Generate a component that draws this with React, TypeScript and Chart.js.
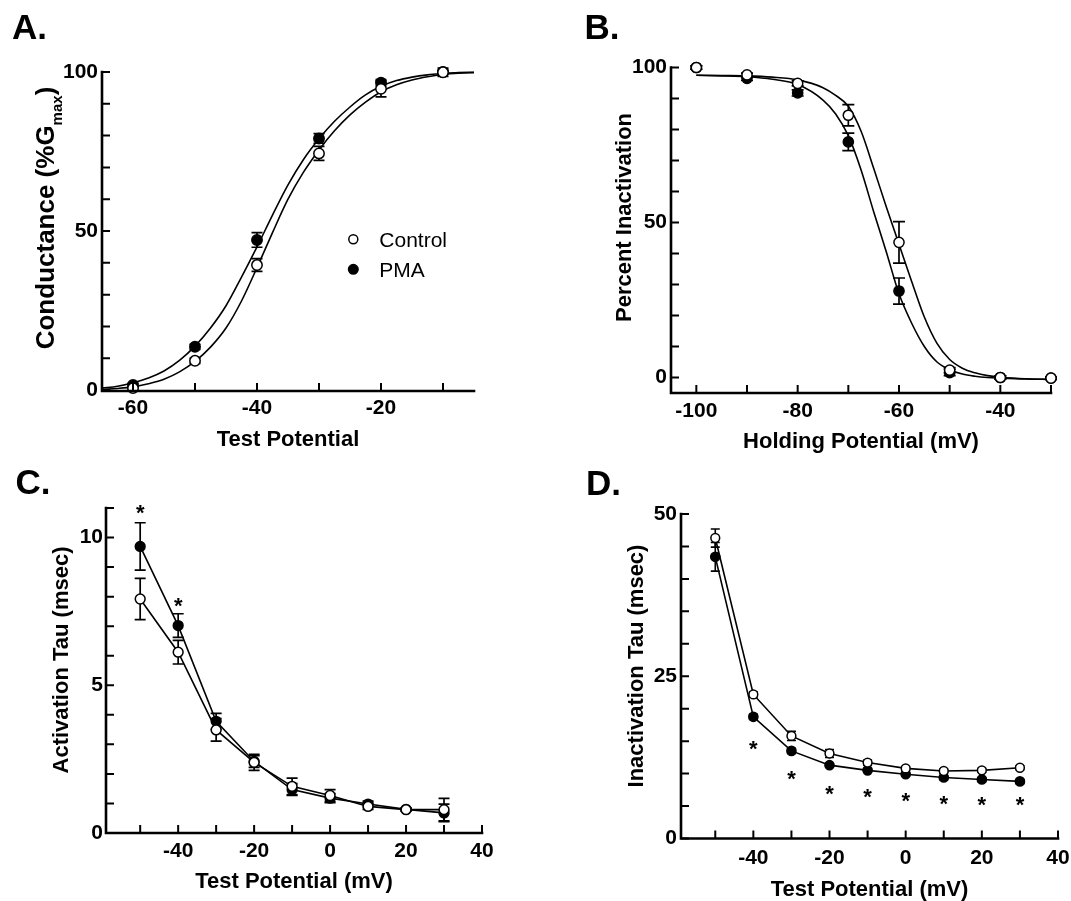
import React, { useEffect, useRef } from 'react';
import { Chart, registerables } from 'chart.js';

Chart.register(...registerables);

const PAGE_W = 1071;
const PAGE_H = 901;
const FAMILY = '"Liberation Sans", Arimo, Arial, Helvetica, sans-serif';
Chart.defaults.font.family = FAMILY;

// ---------------- Panel A: conductance-voltage ----------------
const aVolts = [-60, -50, -40, -30, -20, -10];
const aControl = [0.6, 9.2, 39.3, 74.4, 94.7, 99.9];
const aControlErr = [0.4, 0.8, 2.0, 2.2, 2.5, 1.3];
const aPma = [1.6, 13.6, 47.2, 79.1, 96.6, 100];
const aPmaErr = [0.5, 0.8, 2.3, 1.5, 1.0, 0.6];
const aFitVolts = [-65, -62.5, -60, -57.5, -55, -52.5, -50, -47.5, -45, -42.5, -40, -37.5, -35, -32.5, -30, -27.5, -25, -22.5, -20, -17.5, -15, -12.5, -10, -7.5, -5];
const aFitControl = [0.2, 0.5, 1.0, 2.0, 3.4, 5.7, 9.0, 13.5, 19.5, 28, 38.5, 49.5, 60, 68.5, 75.5, 81.5, 86.5, 90.5, 93.8, 96, 97.5, 98.5, 99.2, 99.6, 99.8];
const aFitPma = [0.6, 1.2, 2.3, 3.8, 6, 9.3, 13.8, 19.5, 26.5, 35.5, 45, 55, 64.5, 72.5, 79, 84.5, 89, 92.8, 95.5, 97.3, 98.4, 99.1, 99.5, 99.8, 99.9];
const aXTicks = [-60, -50, -40, -30, -20, -10];
const aXLabels = [-60, -40, -20];
const aYTicks = [0, 10, 20, 30, 40, 50, 60, 70, 80, 90, 100];
const aYLabels = [0, 50, 100];

// ---------------- Panel B: steady-state inactivation ----------------
const bVolts = [-100, -90, -80, -70, -60, -50, -40, -30];
const bControl = [100, 97.6, 94.9, 84.6, 43.6, 2.4, 0, -0.2];
const bControlErr = [0.5, 0.6, 0.8, 3.4, 6.7, 0.8, 0.5, 0.4];
const bPma = [100, 96.5, 91.8, 76.0, 27.9, 1.6, 0, -0.2];
const bPmaErr = [0.5, 0.7, 1.0, 2.8, 4.2, 1.0, 0.5, 0.4];
const bFitVolts = [-100, -95, -90, -85, -80, -75, -72.5, -70, -67.5, -65, -62.5, -60, -57.5, -55, -52.5, -50, -47.5, -45, -42.5, -40, -35, -30];
const bFitControl = [97.5, 97.4, 97.3, 96.9, 96.0, 93.5, 91, 87.5, 79.5, 67.5, 55, 43, 31, 19.5, 11, 5.8, 3.0, 1.5, 0.6, 0.1, -0.4, -0.6];
const bFitPma = [97.5, 97.3, 97.0, 96.2, 94.5, 89.5, 85, 78, 67, 53.5, 40.5, 27, 17.5, 10, 5, 2.5, 1.1, 0.4, 0, -0.2, -0.5, -0.6];
const bXTicks = [-100, -90, -80, -70, -60, -50, -40, -30];
const bXLabels = [-100, -80, -60, -40];
const bYTicks = [0, 10, 20, 30, 40, 50, 60, 70, 80, 90, 100];
const bYLabels = [0, 50, 100];

// ---------------- Panel C: activation tau ----------------
const cVolts = [-50, -40, -30, -20, -10, 0, 10, 20, 30];
const cControl = [7.92, 6.12, 3.49, 2.39, 1.58, 1.27, 0.9, 0.79, 0.79];
const cControlErr = [0.7, 0.4, 0.38, 0.27, 0.28, 0.2, 0.1, 0.05, 0.38];
const cPma = [9.7, 7.02, 3.78, 2.42, 1.47, 1.18, 0.98, 0.8, 0.68];
const cPmaErr = [0.8, 0.4, 0.27, 0.2, 0.2, 0.15, 0.1, 0.05, 0.3];
const cStarVolts = [-50, -40];
const cStarLevels = [11.0, 7.85];
const cXTicks = [-50, -40, -30, -20, -10, 0, 10, 20, 30, 40];
const cXLabels = [-40, -20, 0, 20, 40];
const cYTicks = [0, 1, 2, 3, 4, 5, 6, 7, 8, 9, 10, 11];
const cYLabels = [0, 5, 10];

// ---------------- Panel D: inactivation tau ----------------
const dVolts = [-50, -40, -30, -20, -10, 0, 10, 20, 30];
const dControl = [46.3, 22.2, 15.8, 13.1, 11.7, 10.8, 10.4, 10.5, 10.9];
const dControlErr = [1.4, 0.4, 0.7, 0.6, 0.4, 0.3, 0.3, 0.3, 0.3];
const dPma = [43.4, 18.75, 13.5, 11.3, 10.5, 9.9, 9.4, 9.1, 8.8];
const dPmaErr = [2.2, 0.4, 0.4, 0.3, 0.3, 0.3, 0.3, 0.3, 0.3];
const dStarVolts = [-40, -30, -20, -10, 0, 10, 20, 30];
const dStarLevels = [14.5, 9.9, 7.7, 7.2, 6.5, 6.05, 5.9, 6.0];
const dXTicks = [-50, -40, -30, -20, -10, 0, 10, 20, 30, 40];
const dXLabels = [-40, -20, 0, 20, 40];
const dYTicks = [0, 5, 10, 15, 20, 25, 30, 35, 40, 45, 50];
const dYLabels = [0, 25, 50];

// ---------------- helpers ----------------
const pts = (xs: number[], ys: number[]) => xs.map((x, i) => ({ x, y: ys[i] }));

function markerSet(label: string, xs: number[], ys: number[], filled: boolean, r: number, showLine: boolean) {
  return {
    label,
    data: pts(xs, ys),
    showLine,
    borderColor: '#000',
    borderWidth: 1.6,
    backgroundColor: filled ? '#000' : '#fff',
    pointStyle: 'circle',
    pointRadius: r,
    pointHoverRadius: r,
    pointBorderWidth: 1.5,
    pointBackgroundColor: filled ? '#000' : '#fff',
    pointBorderColor: '#000',
    tension: 0,
    fill: false,
    clip: false,
    order: filled ? 1 : 0,
  };
}

function curveSet(label: string, xs: number[], ys: number[]) {
  return {
    label,
    data: pts(xs, ys),
    showLine: true,
    borderColor: '#000',
    borderWidth: 1.6,
    pointRadius: 0,
    pointHoverRadius: 0,
    cubicInterpolationMode: 'monotone',
    fill: false,
    clip: false,
    order: 2,
  };
}

const sciPlugin = {
  id: 'sci',
  beforeDatasetsDraw(chart: any, _a: any, opts: any) {
    const ctx = chart.ctx;
    const xs = chart.scales.x;
    const ys = chart.scales.y;
    ctx.save();
    ctx.strokeStyle = '#000';
    ctx.lineWidth = opts.errWidth;
    ctx.lineCap = 'butt';
    (opts.errors || []).forEach((s: any) => {
      s.x.forEach((xv: number, i: number) => {
        const e = s.err[i];
        if (!e) return;
        const px = xs.getPixelForValue(xv);
        const pt = ys.getPixelForValue(s.y[i] + e);
        const pb = ys.getPixelForValue(s.y[i] - e);
        const c = opts.capHalf;
        ctx.beginPath();
        ctx.moveTo(px, pt);
        ctx.lineTo(px, pb);
        ctx.moveTo(px - c, pt);
        ctx.lineTo(px + c, pt);
        ctx.moveTo(px - c, pb);
        ctx.lineTo(px + c, pb);
        ctx.stroke();
      });
    });
    ctx.restore();
  },
  afterDraw(chart: any, _a: any, opts: any) {
    const ctx = chart.ctx;
    const { left, right, top, bottom } = chart.chartArea;
    const xs = chart.scales.x;
    const ys = chart.scales.y;
    ctx.save();
    ctx.strokeStyle = '#000';
    ctx.fillStyle = '#000';
    // axes
    ctx.lineWidth = 2.6;
    ctx.lineCap = 'square';
    ctx.lineJoin = 'miter';
    ctx.beginPath();
    ctx.moveTo(left, top);
    ctx.lineTo(left, bottom);
    ctx.lineTo(right, bottom);
    ctx.stroke();
    // inward ticks
    ctx.lineWidth = 2;
    ctx.lineCap = 'butt';
    ctx.beginPath();
    opts.xTicks.forEach((v: number) => {
      const px = xs.getPixelForValue(v);
      ctx.moveTo(px, bottom);
      ctx.lineTo(px, bottom - 8);
    });
    opts.yTicks.forEach((v: number) => {
      const py = ys.getPixelForValue(v);
      ctx.moveTo(left, py);
      ctx.lineTo(left + 8, py);
    });
    ctx.stroke();
    // significance stars
    if (opts.stars) {
      ctx.font = `bold 22px ${FAMILY}`;
      ctx.textAlign = 'center';
      ctx.textBaseline = 'alphabetic';
      opts.stars.x.forEach((v: number, i: number) => {
        const px = xs.getPixelForValue(v);
        const py = ys.getPixelForValue(opts.stars.y[i]);
        ctx.fillText('*', px, py + 12);
      });
    }
    // vertical axis title
    const t = opts.yTitle;
    ctx.save();
    ctx.translate(t.x, t.y);
    ctx.rotate(-Math.PI / 2);
    ctx.textAlign = 'left';
    ctx.textBaseline = 'alphabetic';
    let total = 0;
    const widths = t.parts.map((p: any) => {
      ctx.font = `bold ${p.size}px ${FAMILY}`;
      const w = ctx.measureText(p.text).width;
      total += w;
      return w;
    });
    let cx = -total / 2;
    t.parts.forEach((p: any, i: number) => {
      ctx.font = `bold ${p.size}px ${FAMILY}`;
      ctx.fillText(p.text, cx, p.dy || 0);
      cx += widths[i];
    });
    ctx.restore();
    // panel letter
    ctx.font = `bold 35px ${FAMILY}`;
    ctx.textAlign = 'left';
    ctx.textBaseline = 'alphabetic';
    ctx.fillText(opts.letter.text, opts.letter.x, opts.letter.y);
    // legend
    if (opts.legend) {
      opts.legend.forEach((l: any) => {
        ctx.beginPath();
        ctx.arc(l.x, l.y, l.r, 0, Math.PI * 2);
        ctx.fillStyle = l.fill;
        ctx.fill();
        ctx.lineWidth = 1.5;
        ctx.strokeStyle = '#000';
        ctx.stroke();
        ctx.fillStyle = '#000';
        ctx.font = `21px ${FAMILY}`;
        ctx.fillText(l.label, l.tx, l.y + 7.5);
      });
    }
    ctx.restore();
  },
};

const TICK_FONT = { family: FAMILY, size: 21, weight: 'bold' as const };
const TITLE_FONT = { family: FAMILY, size: 22, weight: 'bold' as const, lineHeight: 1.2 };

function buildConfig(p: any) {
  const yW = 60;
  const lh = TITLE_FONT.size * TITLE_FONT.lineHeight;
  const xH = p.xTitleY + lh / 2 - p.area.B;
  return {
    type: 'line',
    data: { datasets: p.datasets },
    options: {
      responsive: false,
      animation: false,
      devicePixelRatio: 1,
      events: [],
      layout: {
        padding: {
          left: p.area.L - yW,
          right: PAGE_W - p.area.R,
          top: p.area.T,
          bottom: PAGE_H - p.area.B - xH,
        },
      },
      plugins: {
        legend: { display: false },
        tooltip: { enabled: false },
        sci: p.sci,
      },
      scales: {
        x: {
          type: 'linear',
          min: p.xRange[0],
          max: p.xRange[1],
          grid: { display: false, drawTicks: false },
          border: { display: false },
          ticks: {
            font: TICK_FONT,
            color: '#000',
            padding: p.xPad,
            maxRotation: 0,
            autoSkip: false,
            callback: (v: any) => String(v),
          },
          afterBuildTicks: (s: any) => {
            s.ticks = p.xLabels.map((v: number) => ({ value: v }));
          },
          afterFit: (s: any) => {
            s.height = xH;
            s.paddingLeft = 0;
            s.paddingRight = 0;
          },
          title: { display: true, text: p.xTitle, font: TITLE_FONT, color: '#000', padding: 0 },
        },
        y: {
          type: 'linear',
          min: p.yRange[0],
          max: p.yRange[1],
          grid: { display: false, drawTicks: false },
          border: { display: false },
          ticks: {
            font: TICK_FONT,
            color: '#000',
            padding: p.yPad,
            autoSkip: false,
            callback: (v: any) => String(v),
          },
          afterBuildTicks: (s: any) => {
            s.ticks = p.yLabels.map((v: number) => ({ value: v }));
          },
          afterFit: (s: any) => {
            s.width = yW;
            s.paddingTop = 0;
            s.paddingBottom = 0;
          },
        },
      },
    },
    plugins: [sciPlugin],
  };
}

const panelA = {
  area: { L: 102, R: 474, T: 72, B: 391 },
  xRange: [-65, -5],
  yRange: [-0.3, 100],
  xLabels: aXLabels,
  yLabels: aYLabels,
  xTitle: 'Test Potential',
  xTitleY: 439.5,
  xPad: 5,
  yPad: 4,
  datasets: [
    markerSet('Control', aVolts, aControl, false, 5.2, false),
    markerSet('PMA', aVolts, aPma, true, 5.2, false),
    curveSet('Control fit', aFitVolts, aFitControl),
    curveSet('PMA fit', aFitVolts, aFitPma),
  ],
  sci: {
    xTicks: aXTicks,
    yTicks: aYTicks,
    errWidth: 1.7,
    capHalf: 5.5,
    errors: [
      { x: aVolts, y: aPma, err: aPmaErr },
      { x: aVolts, y: aControl, err: aControlErr },
    ],
    yTitle: {
      x: 53.5,
      y: 218,
      parts: [
        { text: 'Conductance (%G', size: 26 },
        { text: 'max', size: 15, dy: 8 },
        { text: ')', size: 26 },
      ],
    },
    letter: { text: 'A.', x: 12, y: 39 },
    legend: [
      { label: 'Control', fill: '#fff', x: 353.3, y: 239.3, r: 4.5, tx: 379.3 },
      { label: 'PMA', fill: '#000', x: 353.3, y: 269.3, r: 4.8, tx: 379.3 },
    ],
  },
};

const panelB = {
  area: { L: 671, R: 1051, T: 67.5, B: 393 },
  xRange: [-105, -30],
  yRange: [-5, 100],
  xLabels: bXLabels,
  yLabels: bYLabels,
  xTitle: 'Holding Potential (mV)',
  xTitleY: 442,
  xPad: 6,
  yPad: 4,
  datasets: [
    markerSet('Control', bVolts, bControl, false, 5.1, false),
    markerSet('PMA', bVolts, bPma, true, 5.1, false),
    curveSet('Control fit', bFitVolts, bFitControl),
    curveSet('PMA fit', bFitVolts, bFitPma),
  ],
  sci: {
    xTicks: bXTicks,
    yTicks: bYTicks,
    errWidth: 1.7,
    capHalf: 6,
    errors: [
      { x: bVolts, y: bPma, err: bPmaErr },
      { x: bVolts, y: bControl, err: bControlErr },
    ],
    yTitle: { x: 631, y: 217.5, parts: [{ text: 'Percent Inactivation', size: 22 }] },
    letter: { text: 'B.', x: 584.5, y: 39 },
  },
};

const panelC = {
  area: { L: 106, R: 482, T: 508, B: 833 },
  xRange: [-59, 40],
  yRange: [0, 11],
  xLabels: cXLabels,
  yLabels: cYLabels,
  xTitle: 'Test Potential (mV)',
  xTitleY: 882,
  xPad: 6,
  yPad: 3,
  datasets: [
    markerSet('Control', cVolts, cControl, false, 4.9, true),
    markerSet('PMA', cVolts, cPma, true, 4.9, true),
  ],
  sci: {
    xTicks: cXTicks,
    yTicks: cYTicks,
    errWidth: 1.7,
    capHalf: 5.5,
    errors: [
      { x: cVolts, y: cPma, err: cPmaErr },
      { x: cVolts, y: cControl, err: cControlErr },
    ],
    stars: { x: cStarVolts, y: cStarLevels },
    yTitle: { x: 68, y: 660, parts: [{ text: 'Activation Tau (msec)', size: 22 }] },
    letter: { text: 'C.', x: 15.5, y: 493.5 },
  },
};

const panelD = {
  area: { L: 681, R: 1058, T: 514, B: 838.5 },
  xRange: [-59, 40],
  yRange: [0, 50],
  xLabels: dXLabels,
  yLabels: dYLabels,
  xTitle: 'Test Potential (mV)',
  xTitleY: 890,
  xPad: 7,
  yPad: 4,
  datasets: [
    markerSet('Control', dVolts, dControl, false, 4.4, true),
    markerSet('PMA', dVolts, dPma, true, 4.6, true),
  ],
  sci: {
    xTicks: dXTicks,
    yTicks: dYTicks,
    errWidth: 1.6,
    capHalf: 4.5,
    errors: [
      { x: dVolts, y: dPma, err: dPmaErr },
      { x: dVolts, y: dControl, err: dControlErr },
    ],
    stars: { x: dStarVolts, y: dStarLevels },
    yTitle: { x: 642.5, y: 666, parts: [{ text: 'Inactivation Tau (msec)', size: 22 }] },
    letter: { text: 'D.', x: 586, y: 494.5 },
  },
};

function Panel({ spec }: { spec: any }) {
  const ref = useRef<HTMLCanvasElement | null>(null);
  useEffect(() => {
    if (!ref.current) return;
    const chart = new Chart(ref.current, buildConfig(spec) as any);
    return () => chart.destroy();
  }, [spec]);
  return (
    <canvas
      ref={ref}
      width={PAGE_W}
      height={PAGE_H}
      style={{ position: 'absolute', left: 0, top: 0, width: PAGE_W, height: PAGE_H }}
    />
  );
}

export default function App() {
  return (
    <div
      style={{
        position: 'fixed',
        left: 0,
        top: 0,
        width: PAGE_W,
        height: PAGE_H,
        background: '#fff',
        overflow: 'hidden',
      }}
    >
      <Panel spec={panelA} />
      <Panel spec={panelB} />
      <Panel spec={panelC} />
      <Panel spec={panelD} />
    </div>
  );
}
